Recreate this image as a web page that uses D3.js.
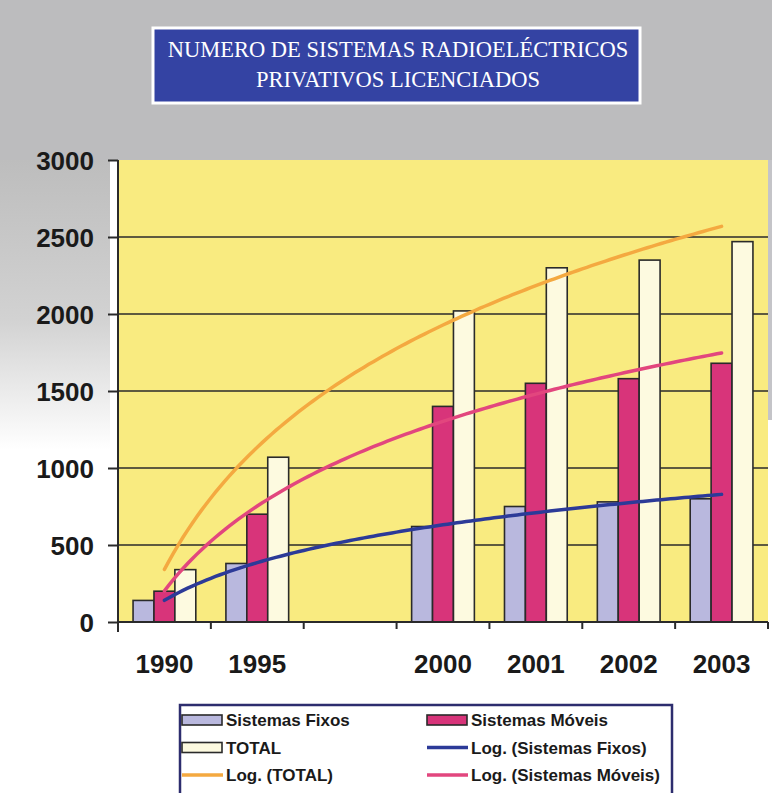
<!DOCTYPE html>
<html><head><meta charset="utf-8">
<script src="https://cdn.jsdelivr.net/npm/d3@7"></script>
<style>html,body{margin:0;padding:0;background:#fff;}svg{display:block;}</style>
</head><body>
<script>
// ---- data ----
const categories = ["1990", "1995", "", "2000", "2001", "2002", "2003"];
const fixos   = [140, 380, null, 620, 750, 780, 800];
const moveis  = [200, 700, null, 1400, 1550, 1580, 1680];
const total   = [340, 1070, null, 2020, 2300, 2350, 2470];
const yTicks  = [0, 500, 1000, 1500, 2000, 2500, 3000];
const seriesNames = ["Sistemas Fixos", "Sistemas Móveis", "TOTAL"];
const titleLines = ["NUMERO DE SISTEMAS RADIOELÉCTRICOS", "PRIVATIVOS LICENCIADOS"];
const legendItems = [
  {label: "Sistemas Fixos", type: "bar", key: "fixos"},
  {label: "Sistemas Móveis", type: "bar", key: "moveis"},
  {label: "TOTAL", type: "bar", key: "total"},
  {label: "Log. (Sistemas Fixos)", type: "line", key: "fixos"},
  {label: "Log. (TOTAL)", type: "line", key: "total"},
  {label: "Log. (Sistemas Móveis)", type: "line", key: "moveis"}
];

const barColor = {fixos: "#b9b8de", moveis: "#d8347a", total: "#fdfae0"};
const lineColor = {fixos: "#2c3a98", moveis: "#e2467e", total: "#f4a940"};

const W = 772, H = 793;
const svg = d3.select("body").append("svg").attr("width", W).attr("height", H);

// background (scanned page look)
const defs = svg.append("defs");
const g1 = defs.append("linearGradient").attr("id", "leftfade").attr("x1", 0).attr("y1", 0).attr("x2", 0).attr("y2", 1);
g1.append("stop").attr("offset", "0%").attr("stop-color", "#bdbdbd");
g1.append("stop").attr("offset", "55%").attr("stop-color", "#d2d2d2");
g1.append("stop").attr("offset", "100%").attr("stop-color", "#ffffff");
svg.append("rect").attr("x", 0).attr("y", 0).attr("width", W).attr("height", 160).attr("fill", "#bcbcbe");
svg.append("rect").attr("x", 0).attr("y", 160).attr("width", 110).attr("height", 290).attr("fill", "url(#leftfade)");
svg.append("rect").attr("x", 768).attr("y", 160).attr("width", 4).attr("height", 260).attr("fill", "#c4c4c8");

// title box
svg.append("rect").attr("x", 153).attr("y", 28).attr("width", 487).attr("height", 75)
  .attr("fill", "#3443a3").attr("stroke", "#ffffff").attr("stroke-width", 3);
svg.selectAll("text.title").data(titleLines).join("text").attr("class", "title")
  .attr("x", 398).attr("y", (d, i) => 57 + i * 30)
  .attr("text-anchor", "middle").attr("fill", "#ffffff")
  .attr("font-family", "Liberation Serif, Times New Roman, serif").attr("font-size", 22.5)
  .text(d => d);

// scales
const plot = {left: 118, right: 768, top: 160, bottom: 622};
const x = d3.scaleBand().domain(categories.map((c, i) => i)).range([plot.left, plot.right]).padding(0);
const xs = d3.scaleBand().domain(["fixos", "moveis", "total"]).range([0, x.bandwidth()]).paddingInner(0).paddingOuter(0.72);
const y = d3.scaleLinear().domain([0, 3000]).range([plot.bottom, plot.top]);

// plot background
svg.append("rect").attr("x", plot.left).attr("y", plot.top).attr("width", plot.right - plot.left)
  .attr("height", plot.bottom - plot.top).attr("fill", "#f9eb80");

// gridlines
svg.append("g").selectAll("line").data(yTicks.filter(t => t > 0 && t < 3000)).join("line")
  .attr("x1", plot.left).attr("x2", plot.right).attr("y1", d => y(d)).attr("y2", d => y(d))
  .attr("stroke", "#2a2a2a").attr("stroke-width", 1.6);

// bars
const seriesData = {fixos, moveis, total};
const barG = svg.append("g");
["fixos", "moveis", "total"].forEach(k => {
  barG.selectAll("rect." + k).data(seriesData[k].map((v, i) => ({v, i})).filter(d => d.v != null))
    .join("rect").attr("class", k)
    .attr("x", d => x(d.i) + xs(k)).attr("width", xs.bandwidth())
    .attr("y", d => y(d.v)).attr("height", d => y(0) - y(d.v))
    .attr("fill", barColor[k]).attr("stroke", "#2a2a2a").attr("stroke-width", 1.6);
});

// logarithmic trendlines (least squares fit y = a + b ln(x), x = category index 1..n)
function logFit(vals) {
  const pts = vals.map((v, i) => [Math.log(i + 1), v]).filter(p => p[1] != null);
  const mx = d3.mean(pts, p => p[0]), my = d3.mean(pts, p => p[1]);
  const sxy = d3.sum(pts, p => (p[0] - mx) * (p[1] - my));
  const sxx = d3.sum(pts, p => (p[0] - mx) ** 2);
  const b = sxy / sxx, a = my - b * mx;
  return t => a + b * Math.log(t);
}
const n = categories.length;
const xIdx = d3.scaleLinear().domain([1, n]).range([x(0) + x.bandwidth() / 2, x(n - 1) + x.bandwidth() / 2]);
const tSamples = d3.range(1, n + 0.001, 0.05);
const line = d3.line().x(d => xIdx(d[0])).y(d => y(d[1])).curve(d3.curveLinear);
["fixos", "moveis", "total"].forEach(k => {
  const f = logFit(seriesData[k]);
  svg.append("path").datum(tSamples.map(t => [t, f(t)]))
    .attr("d", line).attr("fill", "none").attr("stroke", lineColor[k])
    .attr("stroke-width", 3.5).attr("stroke-linecap", "round");
});

// axes
const yAxis = d3.axisLeft(y).tickValues(yTicks).tickSize(10).tickPadding(14).tickFormat(d3.format("d"));
const yg = svg.append("g").attr("transform", `translate(${plot.left},0)`).call(yAxis);
yg.select(".domain").attr("d", `M0,${plot.top}V${plot.bottom + 10}`).attr("stroke", "#2a2a2a").attr("stroke-width", 2);
yg.selectAll(".tick line").attr("stroke", "#2a2a2a").attr("stroke-width", 2);
yg.selectAll(".tick text").attr("font-family", "Liberation Sans, Arial, sans-serif")
  .attr("font-weight", "bold").attr("font-size", 26).attr("fill", "#1a1a1a").attr("dy", "0.36em");

const xg = svg.append("g").attr("transform", `translate(0,${plot.bottom})`);
xg.append("line").attr("x1", plot.left).attr("x2", plot.right).attr("y1", 0).attr("y2", 0)
  .attr("stroke", "#2a2a2a").attr("stroke-width", 2);
xg.selectAll("line.tk").data(d3.range(n + 1)).join("line").attr("class", "tk")
  .attr("x1", d => d < n ? x(d) : plot.right).attr("x2", d => d < n ? x(d) : plot.right)
  .attr("y1", 0).attr("y2", 7).attr("stroke", "#2a2a2a").attr("stroke-width", 2);
xg.selectAll("text").data(categories.map((c, i) => ({c, i}))).join("text")
  .attr("x", d => x(d.i) + x.bandwidth() / 2).attr("y", 51).attr("text-anchor", "middle")
  .attr("font-family", "Liberation Sans, Arial, sans-serif").attr("font-weight", "bold")
  .attr("font-size", 26).attr("fill", "#1a1a1a").text(d => d.c);

// legend
const lg = svg.append("g");
lg.append("rect").attr("x", 180).attr("y", 705).attr("width", 492).attr("height", 100)
  .attr("fill", "#ffffff").attr("stroke", "#2d2d6e").attr("stroke-width", 2.5);
legendItems.forEach((it, i) => {
  const col = i % 2, row = Math.floor(i / 2);
  const sx = col === 0 ? 182 : 427, cy = 720 + row * 27.5;
  if (it.type === "bar") {
    lg.append("rect").attr("x", sx).attr("y", cy - 5).attr("width", 40).attr("height", 10)
      .attr("fill", barColor[it.key]).attr("stroke", "#2a2a2a").attr("stroke-width", 1.6);
  } else {
    lg.append("line").attr("x1", sx).attr("x2", sx + 41).attr("y1", cy).attr("y2", cy)
      .attr("stroke", lineColor[it.key]).attr("stroke-width", 3.5);
  }
  lg.append("text").attr("x", sx + 44).attr("y", cy).attr("dy", "0.36em")
    .attr("font-family", "Liberation Sans, Arial, sans-serif").attr("font-weight", "bold")
    .attr("font-size", 17).attr("fill", "#1a1a1a").text(it.label);
});
</script>
</body></html>
